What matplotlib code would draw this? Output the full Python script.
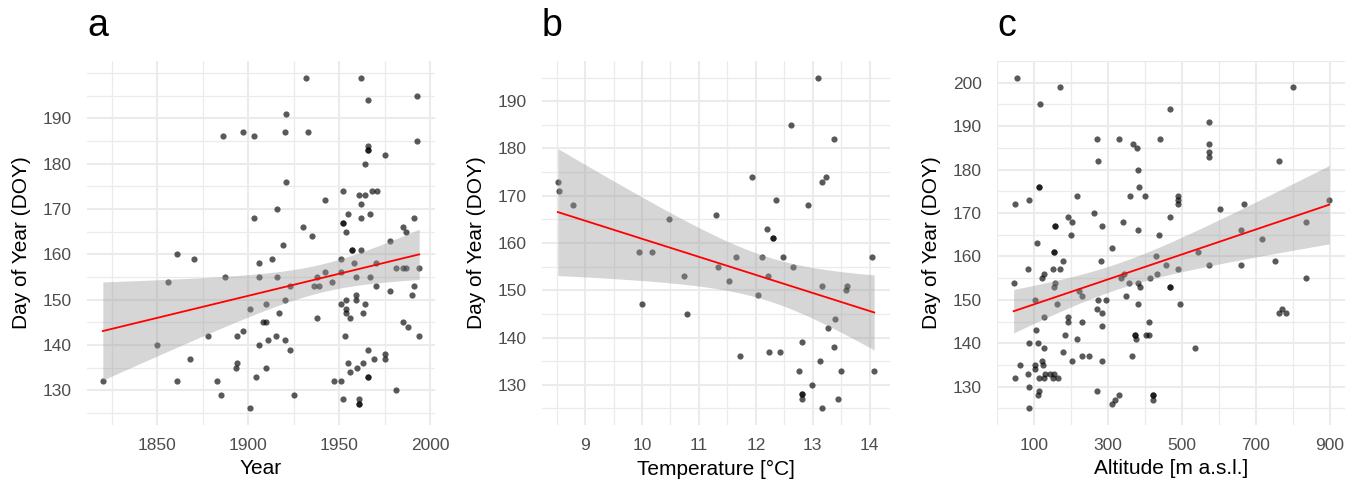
import matplotlib
matplotlib.use('Agg')
import numpy as np
import matplotlib.pyplot as plt

plt.rcParams['font.family'] = ['Liberation Sans', 'DejaVu Sans']

# --- dados: painel a (ano x DOY) ---
a_year = [1820, 1850, 1856, 1861, 1861, 1868, 1870, 1878, 1883, 1885,
          1886, 1887, 1893, 1894, 1894, 1897, 1897, 1901, 1901, 1903,
          1903, 1904, 1906, 1906, 1906, 1908, 1910, 1910, 1910, 1911,
          1913, 1915, 1916, 1916, 1917, 1919, 1920, 1920, 1920, 1921,
          1921, 1923, 1923, 1925, 1930, 1932, 1933, 1935, 1936, 1938,
          1938, 1939, 1942, 1942, 1946, 1947, 1951, 1951, 1951, 1951,
          1952, 1952, 1952, 1952, 1953, 1954, 1954, 1954, 1954, 1955,
          1955, 1956, 1956, 1957, 1957, 1958, 1959, 1959, 1959, 1960,
          1961, 1961, 1961, 1961, 1962, 1962, 1962, 1962, 1963, 1963,
          1964, 1964, 1964, 1966, 1966, 1966, 1966, 1966, 1966, 1966,
          1967, 1967, 1968, 1969, 1970, 1970, 1971, 1975, 1975, 1975,
          1978, 1978, 1981, 1981, 1985, 1985, 1985, 1987, 1987, 1988,
          1990, 1991, 1991, 1993, 1993, 1994, 1994]
a_doy = [132, 140, 154, 160, 132, 137, 159, 142, 132, 129,
         186, 155, 135, 136, 142, 143, 187, 148, 126, 186,
         168, 133, 140, 158, 155, 145, 145, 149, 135, 141,
         159, 142, 170, 155, 147, 162, 150, 141, 187, 191,
         176, 153, 139, 129, 166, 199, 187, 164, 153, 155,
         146, 153, 172, 156, 154, 132, 132, 159, 156, 149,
         174, 167, 167, 128, 142, 165, 150, 148, 147, 169,
         136, 146, 134, 161, 161, 158, 155, 151, 150, 135,
         128, 127, 127, 173, 199, 171, 168, 161, 147, 136,
         180, 173, 149, 194, 184, 183, 183, 139, 133, 133,
         169, 155, 174, 137, 153, 158, 174, 182, 138, 137,
         163, 152, 130, 157, 166, 145, 157, 165, 157, 144,
         151, 168, 153, 195, 185, 157, 142]

# --- painel b (temperatura x DOY) ---
b_temp = [8.52, 8.54, 8.78, 9.95, 10.17, 10.0, 10.48, 10.74, 10.79, 11.30,
          11.34, 11.52, 11.66, 11.73, 11.94, 12.04, 12.10, 12.19, 12.21, 12.23,
          12.30, 12.30, 12.35, 12.42, 12.47, 12.62, 12.65, 12.75, 12.81, 12.81,
          12.81, 12.82, 12.92, 12.98, 13.10, 13.12, 13.16, 13.17, 13.16, 13.23,
          13.27, 13.37, 13.37, 13.39, 13.44, 13.49, 13.59, 13.61, 14.05, 14.08]
b_doy = [173, 171, 168, 158, 158, 147, 165, 153, 145, 166,
         155, 152, 157, 136, 174, 149, 157, 163, 153, 137,
         161, 161, 169, 137, 157, 185, 155, 133, 128, 128,
         127, 139, 168, 130, 195, 135, 173, 151, 125, 174,
         142, 182, 138, 144, 127, 133, 150, 151, 157, 133]

# --- painel c (altitude x DOY) ---
c_alt = [55, 169, 116, 801, 467, 573, 269, 331, 368, 379,
         441, 573, 573, 573, 273, 763, 381, 113, 113, 384,
         48, 86, 216, 359, 401, 488, 488, 488, 898, 667,
         602, 262, 192, 467, 202, 341, 834, 157, 157, 284,
         381, 660, 201, 438, 109, 717, 311, 153, 153, 542,
         430, 178, 280, 751, 456, 572, 659, 84, 151, 169,
         489, 127, 342, 433, 122, 334, 413, 834, 45, 157,
         357, 380, 153, 386, 467, 467, 222, 231, 350, 104,
         273, 295, 162, 380, 495, 271, 761, 771, 781, 284,
         128, 192, 192, 231, 411, 285, 106, 184, 373, 373,
         404, 411, 217, 375, 86, 112, 128, 535, 179, 202,
         285, 231, 250, 364, 122, 63, 104, 123, 104, 48,
         85, 130, 143, 154, 113, 126, 151, 164, 86, 113,
         110, 269, 86, 310, 319, 329, 422, 422, 422]
c_doy = [201, 199, 195, 199, 194, 191, 187, 187, 186, 185,
         187, 186, 184, 183, 182, 182, 180, 176, 176, 176,
         172, 173, 174, 174, 174, 174, 173, 172, 173, 172,
         171, 170, 169, 169, 168, 168, 168, 167, 167, 167,
         166, 166, 165, 165, 163, 164, 162, 161, 161, 161,
         160, 159, 159, 159, 158, 158, 158, 157, 157, 157,
         157, 156, 156, 156, 155, 155, 155, 155, 154, 154,
         154, 154, 153, 153, 153, 153, 152, 151, 151, 150,
         150, 150, 149, 149, 149, 148, 147, 148, 147, 147,
         146, 146, 145, 145, 145, 144, 143, 142, 142, 142,
         142, 142, 141, 141, 140, 140, 139, 139, 138, 136,
         136, 137, 137, 137, 136, 135, 135, 135, 134, 132,
         133, 133, 133, 133, 132, 132, 132, 132, 130, 129,
         128, 129, 125, 126, 127, 128, 128, 128, 127]

W, H = 1352, 491
GRID = '#EBEBEB'


def lm_band(x, y):
    # regressao linear com intervalo de confianca de 95% (como geom_smooth)
    x = np.asarray(x, float)
    y = np.asarray(y, float)
    n = len(x)
    b1, b0 = np.polyfit(x, y, 1)
    res = y - (b0 + b1 * x)
    s = np.sqrt(np.sum(res**2) / (n - 2))
    xm = x.mean()
    sxx = np.sum((x - xm)**2)
    df = n - 2
    z = 1.959964
    t = z + (z**3 + z) / (4 * df) + (5 * z**5 + 16 * z**3 + 3 * z) / (96 * df**2)
    xs = np.linspace(x.min(), x.max(), 80)
    yh = b0 + b1 * xs
    se = s * np.sqrt(1 / n + (xs - xm)**2 / sxx)
    return xs, yh, yh - t * se, yh + t * se


def painel(left_px, x, y, letra, xlabel, xmaj, xmin, xlabels, ymaj, ylabels, ymin):
    ax = fig.add_axes([left_px / W, 66 / H, 348 / W, 364 / H])
    x = np.asarray(x, float)
    y = np.asarray(y, float)
    rx = x.max() - x.min()
    ry = y.max() - y.min()
    ax.set_xlim(x.min() - 0.05 * rx, x.max() + 0.05 * rx)
    ax.set_ylim(y.min() - 0.05 * ry, y.max() + 0.05 * ry)

    ax.scatter(x, y, s=20, color='black', alpha=0.65, linewidths=0, zorder=3)
    xs, yh, lo, hi = lm_band(x, y)
    ax.fill_between(xs, lo, hi, color='#999999', alpha=0.4, linewidth=0, zorder=4)
    ax.plot(xs, yh, color='red', linewidth=1.3, zorder=5)

    ax.set_xticks(xmaj)
    ax.set_xticklabels(xlabels)
    ax.set_xticks(xmin, minor=True)
    ax.set_yticks(ymaj)
    ax.set_yticklabels(ylabels)
    ax.set_yticks(ymin, minor=True)
    ax.grid(True, which='major', color=GRID, linewidth=1.5, zorder=0)
    ax.grid(True, which='minor', color=GRID, linewidth=0.9, zorder=0)
    ax.set_axisbelow(True)
    for sp in ax.spines.values():
        sp.set_visible(False)
    ax.tick_params(which='both', length=0)
    ax.tick_params(axis='x', labelsize=12.5, labelcolor='#4D4D4D', pad=9)
    ax.tick_params(axis='y', labelsize=12.5, labelcolor='#4D4D4D', pad=11)
    ax.set_xlabel(xlabel, fontsize=15, labelpad=5)
    ax.set_ylabel('Day of Year (DOY)', fontsize=15, labelpad=8)
    fig.text(left_px / W, 1 - 36 / H, letra, fontsize=27, va='baseline', ha='left')
    return ax


fig = plt.figure(figsize=(W / 100, H / 100), dpi=100)

# painel a
painel(87, a_year, a_doy, 'a', 'Year',
       [1850, 1900, 1950, 2000], [1825, 1875, 1925, 1975],
       ['1850', '1900', '1950', '2000'],
       list(range(130, 200, 10)), [str(v) for v in range(130, 200, 10)],
       list(range(125, 205, 5)))

# painel b
painel(542, b_temp, b_doy, 'b', 'Temperature [°C]',
       [9, 10, 11, 12, 13, 14], [8.5, 9.5, 10.5, 11.5, 12.5, 13.5],
       ['9', '10', '11', '12', '13', '14'],
       list(range(130, 200, 10)), [str(v) for v in range(130, 200, 10)],
       list(range(125, 200, 5)))

# painel c
painel(997, c_alt, c_doy, 'c', 'Altitude [m a.s.l.]',
       [100, 300, 500, 700, 900], [0, 200, 400, 600, 800],
       ['100', '300', '500', '700', '900'],
       list(range(130, 210, 10)), [str(v) for v in range(130, 210, 10)],
       list(range(125, 210, 5)))

fig.savefig('out.png', dpi=100)
